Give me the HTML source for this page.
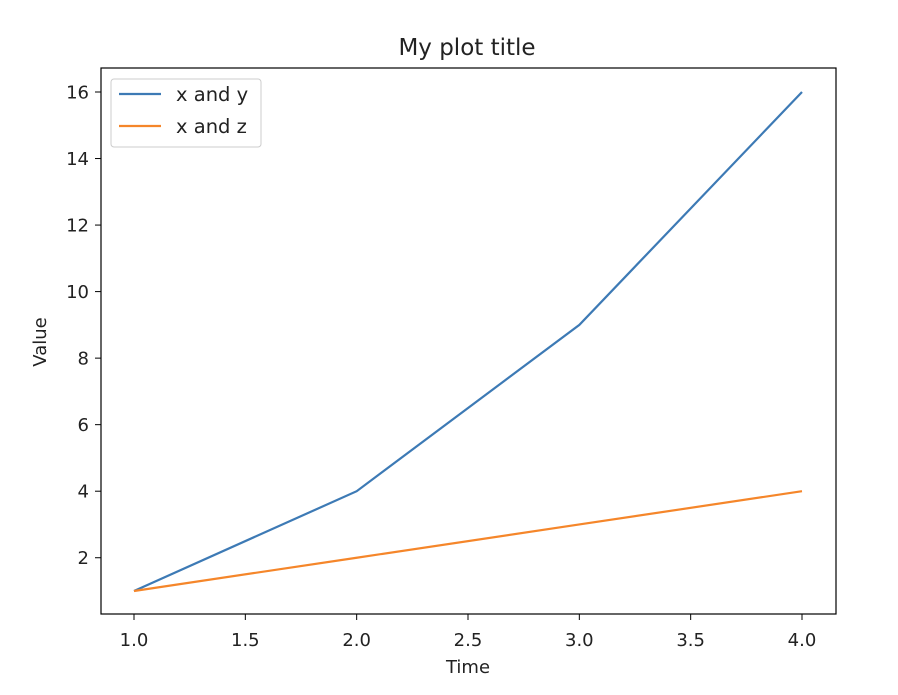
<!DOCTYPE html>
<html><head><meta charset="utf-8"><style>
body{margin:0;background:#fff}
svg text{font-family:"DejaVu Sans","Liberation Sans",sans-serif;fill:#222}
</style></head><body>
<svg width="898" height="690">
<rect x="0" y="0" width="898" height="690" fill="#fff"/>
<text x="467" y="55" font-size="23" text-anchor="middle">My plot title</text>
<g id="ticks"></g>
<g id="lines"></g>
<rect x="101" y="68" width="735" height="546" fill="none" stroke="#000" stroke-width="1.2"/>
<text x="468" y="673" font-size="18" text-anchor="middle">Time</text>
<text x="46" y="342" font-size="18" text-anchor="middle" transform="rotate(-90 46 342)">Value</text>
<g>
<rect x="111" y="79" width="150" height="68" rx="3" fill="#fff" fill-opacity="0.8" stroke="#ccc"/>
<line x1="119" y1="94" x2="161" y2="94" stroke="#3d7ab5" stroke-width="2.2"/>
<text x="176" y="101" font-size="19.5">x and y</text>
<line x1="119" y1="126" x2="161" y2="126" stroke="#f5862a" stroke-width="2.2"/>
<text x="176" y="133" font-size="19.5">x and z</text>
</g>
</svg>
<script>
const xs=[1,2,3,4];
const ySeries=[1,4,9,16];
const zSeries=[1,2,3,4];
const xTicks=[1.0,1.5,2.0,2.5,3.0,3.5,4.0];
const yTicks=[2,4,6,8,10,12,14,16];
const NS="http://www.w3.org/2000/svg";
function sx(v){return 134+(v-1)*(802-134)/3;}
function sy(v){return 591-(v-1)*(591-92)/15;}
const tg=document.getElementById('ticks');
xTicks.forEach(t=>{
 const l=document.createElementNS(NS,'line');
 l.setAttribute('x1',sx(t));l.setAttribute('x2',sx(t));l.setAttribute('y1',614);l.setAttribute('y2',620);
 l.setAttribute('stroke','#000');
 
 
 tg.appendChild(l);
 const tx=document.createElementNS(NS,'text');
 tx.setAttribute('x',sx(t));tx.setAttribute('y',646);tx.setAttribute('font-size','18');tx.setAttribute('text-anchor','middle');
 tx.textContent=t.toFixed(1);
 
 
 tg.appendChild(tx);
});
yTicks.forEach(t=>{
 const l=document.createElementNS(NS,'line');
 l.setAttribute('x1',95);l.setAttribute('x2',101);l.setAttribute('y1',sy(t));l.setAttribute('y2',sy(t));
 l.setAttribute('stroke','#000');
 
 
 tg.appendChild(l);
 const tx=document.createElementNS(NS,'text');
 tx.setAttribute('x',89);tx.setAttribute('y',sy(t)+6.5);tx.setAttribute('font-size','18');tx.setAttribute('text-anchor','end');
 tx.textContent=t;
 
 
 tg.appendChild(tx);
});
const lg=document.getElementById('lines');
function addLine(vals,color,name){
 const p=document.createElementNS(NS,'polyline');
 p.setAttribute('points',xs.map((x,i)=>sx(x)+','+sy(vals[i])).join(' '));
 p.setAttribute('fill','none');p.setAttribute('stroke',color);p.setAttribute('stroke-width','2.2');
 
 
 lg.appendChild(p);
}
addLine(ySeries,'#3d7ab5','line-x-and-y');
addLine(zSeries,'#f5862a','line-x-and-z');
</script>
</body></html>
